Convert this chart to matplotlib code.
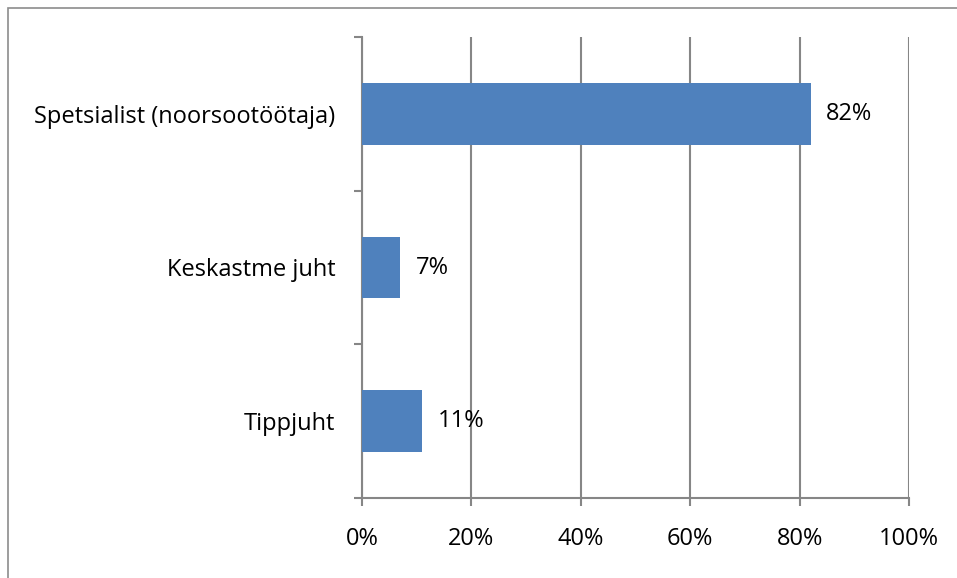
import numpy as np
import matplotlib.pyplot as plt
from matplotlib.patches import Rectangle

# --- Datos ---
categories = ['Spetsialist (noorsootöötaja)', 'Keskastme juht', 'Tippjuht']
values = [82, 7, 11]
x_ticks = [0, 20, 40, 60, 80, 100]

BAR_COLOR = '#4f81bd'
GRID_COLOR = '#868686'
FS = 17

plt.rcParams['font.family'] = ['Open Sans', 'DejaVu Sans']

fig = plt.figure(figsize=(9.57, 5.78), dpi=100)
ax = fig.add_axes([362 / 957, 1 - 498 / 578, (909 - 362) / 957, (498 - 37) / 578])

# borde exterior del gráfico
fig.patches.append(Rectangle((8 / 957, -0.1), 1.2, 1 - 8 / 578 + 0.1, transform=fig.transFigure,
                             fill=False, edgecolor='#8c8c8c', linewidth=1.2))

y = np.arange(len(categories))[::-1]
ax.barh(y, values, height=0.4, color=BAR_COLOR, zorder=3)
for yi, v in zip(y, values):
    ax.text(v + 2.8, yi, f'{v}%', va='center', ha='left', fontsize=FS)

ax.set_xlim(0, 100)
ax.set_ylim(-0.5, len(categories) - 0.5)
ax.set_xticks(x_ticks)
ax.set_xticklabels([f'{t}%' for t in x_ticks], fontsize=FS)
ax.xaxis.grid(True, color=GRID_COLOR, linewidth=1.5, zorder=0)
ax.tick_params(axis='x', length=6, width=1.5, color=GRID_COLOR, pad=15)

ax.set_yticks(y)
ax.set_yticklabels(categories, fontsize=FS)
ax.set_yticks(np.arange(-0.5, len(categories)), minor=True)
ax.tick_params(axis='y', which='major', length=0, pad=19)
ax.tick_params(axis='y', which='minor', length=6, width=1.5, color=GRID_COLOR)

for s in ['top', 'right']:
    ax.spines[s].set_visible(False)
for s in ['left', 'bottom']:
    ax.spines[s].set_color(GRID_COLOR)
    ax.spines[s].set_linewidth(1.5)

fig.savefig('out.png', dpi=100)
